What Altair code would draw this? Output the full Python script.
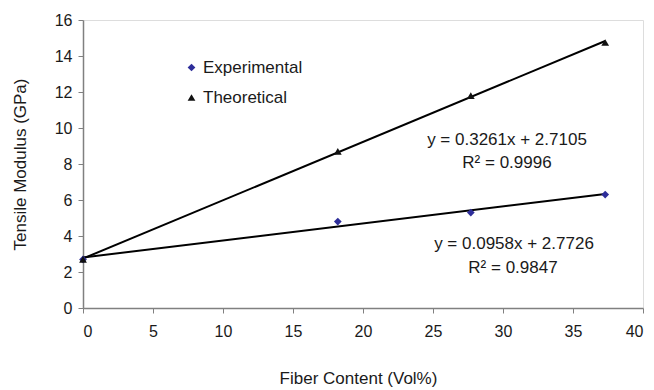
import altair as alt
import pandas as pd

fiber = [0, 18.2, 27.7, 37.3]
experimental = [2.7, 4.8, 5.3, 6.3]
theoretical = [2.7, 8.7, 11.8, 14.75]
series_names = ["Experimental", "Theoretical"]

eq_texts = ["y = 0.3261x + 2.7105", "R² = 0.9996", "y = 0.0958x + 2.7726", "R² = 0.9847"]

rows = []
for x, e in zip(fiber, experimental):
    rows.append({"x": x, "y": e, "series": "Experimental"})
for x, t in zip(fiber, theoretical):
    rows.append({"x": x, "y": t, "series": "Theoretical"})
df = pd.DataFrame(rows)

xscale = alt.Scale(domain=[0, 40], nice=False)
yscale = alt.Scale(domain=[0, 16], nice=False)

xaxis = alt.Axis(values=list(range(0, 41, 5)), grid=False, tickSize=5, labelPadding=10,
                 labelFontSize=16, labelColor="#1a1a1a", domainColor="#808080", tickColor="#808080",
                 labelOverlap=False, domainWidth=1.5,
                 title="Fiber Content (Vol%)", titleFontSize=17, titleFontWeight="normal",
                 titleColor="#1a1a1a", titleX=275, titleY=70, titleBaseline="middle", titleAlign="center")
yaxis = alt.Axis(values=list(range(0, 17, 2)), grid=False, tickSize=5, labelPadding=6,
                 labelFontSize=16, labelColor="#1a1a1a", domainColor="#808080", tickColor="#808080",
                 labelOverlap=False, domainWidth=1.5,
                 title="Tensile Modulus (GPa)", titleFontSize=17, titleFontWeight="normal",
                 titleColor="#1a1a1a", titleX=-63, titleY=144, titleAngle=270,
                 titleBaseline="middle", titleAlign="center")

base = alt.Chart(df)

lines = base.transform_regression("x", "y", groupby=["series"]).mark_line(
    color="black", strokeWidth=2
).encode(
    x=alt.X("x:Q", scale=xscale, axis=xaxis),
    y=alt.Y("y:Q", scale=yscale, axis=yaxis),
    detail="series:N",
)

leg = alt.Legend(title=None, orient="none", legendX=100, legendY=39,
                 labelFontSize=17, labelColor="#1a1a1a", symbolSize=60,
                 rowPadding=12, labelOffset=3)

points = base.mark_point(filled=True, opacity=1).encode(
    x=alt.X("x:Q", scale=xscale, axis=xaxis),
    y=alt.Y("y:Q", scale=yscale, axis=yaxis),
    shape=alt.Shape("series:N", scale=alt.Scale(domain=series_names, range=["diamond", "triangle-up"]),
                    legend=leg),
    color=alt.Color("series:N", scale=alt.Scale(domain=series_names, range=["#2e2e9a", "#111111"]),
                    legend=leg),
    size=alt.value(60),
)

ann_df = pd.DataFrame({"t": eq_texts, "i": [0, 1, 2, 3]})
ann_x = [424, 424, 431, 430]
ann_y = [120, 143, 224, 248]
anns = []
for k in range(4):
    anns.append(
        alt.Chart(ann_df).transform_filter(alt.datum.i == k).mark_text(
            fontSize=17, color="#1a1a1a", align="center", baseline="middle"
        ).encode(text="t:N", x=alt.value(ann_x[k]), y=alt.value(ann_y[k]))
    )

chart = alt.layer(lines, points, *anns).properties(
    width=560, height=288,
    autosize=alt.AutoSizeParams(type="none"),
    padding={"left": 83, "top": 20, "right": 11, "bottom": 82},
).configure_view(stroke=None).configure(font="Liberation Sans")

chart.save("out.html", embed_options={"renderer": "svg", "actions": False})
